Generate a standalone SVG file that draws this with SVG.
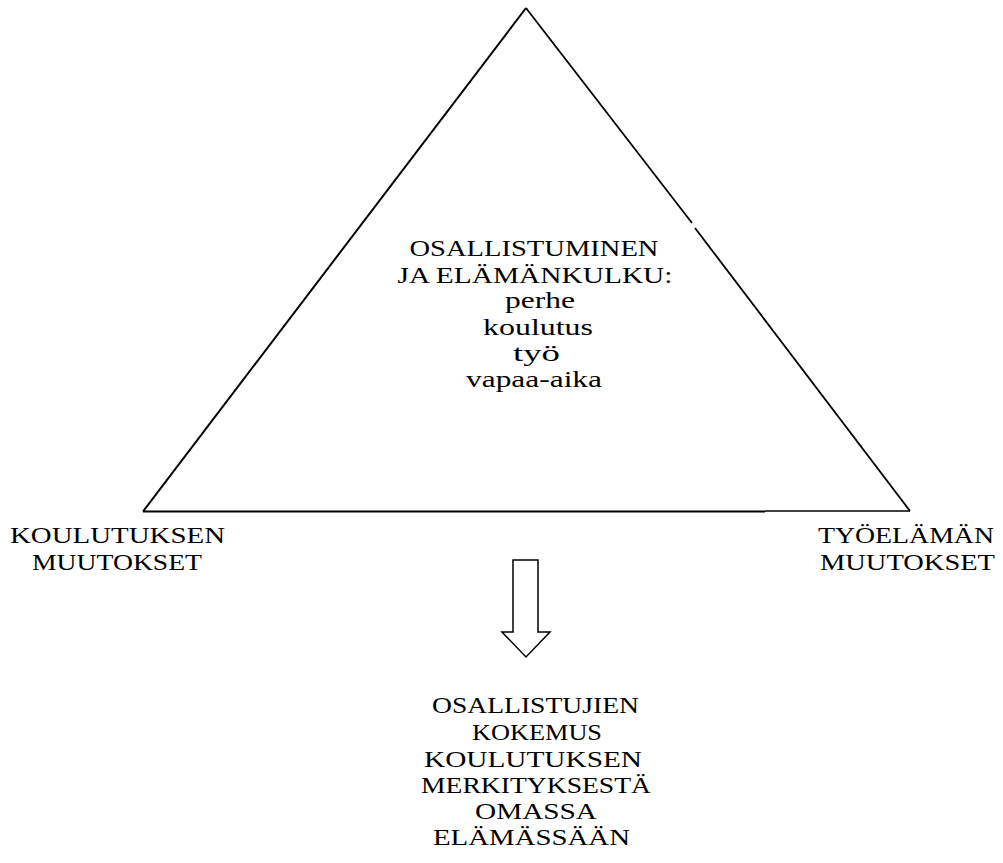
<svg xmlns="http://www.w3.org/2000/svg" width="1003" height="863" viewBox="0 0 1003 863">
<style>
text{font-family:"Liberation Serif","Times New Roman",serif;font-size:24px;fill:#000;text-anchor:middle}
.ln{stroke:#000;fill:none;stroke-linecap:butt}
</style>
<rect width="1003" height="863" fill="#fff"/>
<g id="connectors">
<g id="triangle">
<line class="ln" x1="143" y1="511.5" x2="526" y2="8" stroke-width="2"/>
<line class="ln" x1="526" y1="8" x2="692" y2="223" stroke-width="1.8"/>
<line class="ln" x1="695" y1="228" x2="910" y2="511" stroke-width="1.8"/>
<line class="ln" x1="143" y1="511.5" x2="765" y2="511.5" stroke-width="2.2"/>
<line class="ln" x1="765" y1="511" x2="910" y2="511" stroke-width="1.3"/>
</g>
<polygon id="arrow" class="ln" stroke-width="1.5" stroke-linejoin="miter" points="513,560 538,560 538,632 550,632 526,657 502,632 513,632"/>
</g>
<g id="node-center">
<text x="534" y="256" textLength="249" lengthAdjust="spacingAndGlyphs">OSALLISTUMINEN</text>
<text x="535" y="282.5" textLength="275" lengthAdjust="spacingAndGlyphs">JA ELÄMÄNKULKU:</text>
<text x="540" y="308" textLength="70" lengthAdjust="spacingAndGlyphs">perhe</text>
<text x="538" y="335" textLength="110" lengthAdjust="spacingAndGlyphs">koulutus</text>
<text x="536.5" y="361" textLength="47" lengthAdjust="spacingAndGlyphs">työ</text>
<text x="534" y="387" textLength="136" lengthAdjust="spacingAndGlyphs">vapaa-aika</text>
</g>
<g id="node-left">
<text x="117.5" y="543" textLength="215" lengthAdjust="spacingAndGlyphs">KOULUTUKSEN</text>
<text x="117" y="570" textLength="170" lengthAdjust="spacingAndGlyphs">MUUTOKSET</text>
</g>
<g id="node-right">
<text x="906" y="543" textLength="176" lengthAdjust="spacingAndGlyphs">TYÖELÄMÄN</text>
<text x="907.5" y="570" textLength="175" lengthAdjust="spacingAndGlyphs">MUUTOKSET</text>
</g>
<g id="node-bottom">
<text x="535.5" y="713" textLength="207" lengthAdjust="spacingAndGlyphs">OSALLISTUJIEN</text>
<text x="537" y="740" textLength="130" lengthAdjust="spacingAndGlyphs">KOKEMUS</text>
<text x="533" y="767" textLength="218" lengthAdjust="spacingAndGlyphs">KOULUTUKSEN</text>
<text x="536" y="793" textLength="230" lengthAdjust="spacingAndGlyphs">MERKITYKSESTÄ</text>
<text x="536" y="819" textLength="122" lengthAdjust="spacingAndGlyphs">OMASSA</text>
<text x="531.5" y="845" textLength="197" lengthAdjust="spacingAndGlyphs">ELÄMÄSSÄÄN</text>
</g>
</svg>
